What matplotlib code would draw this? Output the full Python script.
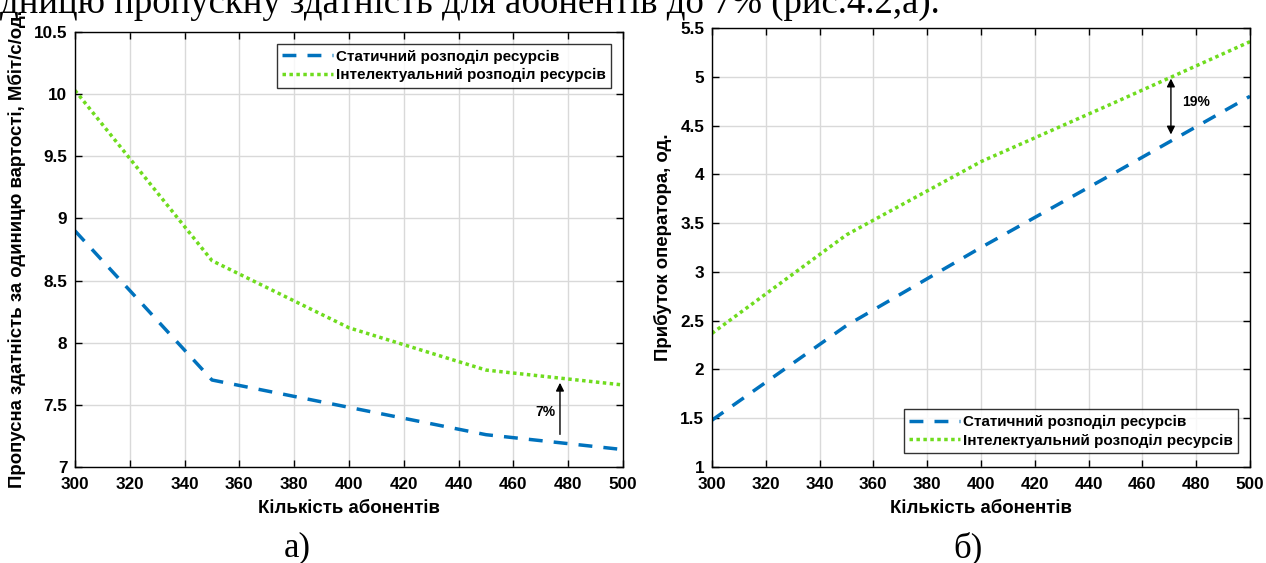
import matplotlib.pyplot as plt

# Дані
abonents = [300, 350, 400, 450, 500]
thr_static = [8.90, 7.70, 7.48, 7.26, 7.14]
thr_smart = [10.03, 8.66, 8.12, 7.78, 7.66]
profit_static = [1.48, 2.45, 3.25, 4.02, 4.80]
profit_smart = [2.37, 3.38, 4.13, 4.74, 5.36]

x_ticks = list(range(300, 501, 20))
y_ticks_a = [7, 7.5, 8, 8.5, 9, 9.5, 10, 10.5]
y_ticks_b = [1, 1.5, 2, 2.5, 3, 3.5, 4, 4.5, 5, 5.5]

lbl_static = "Статичний розподіл ресурсів"
lbl_smart = "Інтелектуальний розподіл ресурсів"

BLUE = "#0072BD"
GREEN = "#6FDC1E"
SANS = ["Liberation Sans", "DejaVu Sans"]
SERIF = ["Liberation Serif", "DejaVu Serif"]

plt.rcParams["font.family"] = SANS
plt.rcParams["font.weight"] = "bold"

fig = plt.figure(figsize=(12.66, 5.63), dpi=100)
W, H = 1266, 563


def make_axes(l, r, t, b):
    return fig.add_axes([l / W, 1 - b / H, (r - l) / W, (b - t) / H])


def style(ax, yticks):
    ax.set_xlim(300, 500)
    ax.set_xticks(x_ticks)
    ax.set_ylim(yticks[0], yticks[-1])
    ax.set_yticks(yticks)
    ax.set_yticklabels([f"{v:g}" for v in yticks])
    ax.grid(True, color="#d9d9d9", lw=1.0)
    ax.set_axisbelow(True)
    ax.tick_params(direction="in", top=True, right=True, length=5, width=1,
                   labelsize=12.3)
    ax.tick_params(axis="x", pad=7)
    ax.tick_params(axis="y", pad=5.5)
    for s in ax.spines.values():
        s.set_linewidth(1.0)
    ax.set_xlabel("Кількість абонентів", fontsize=13.4, fontweight="bold", labelpad=6)


def plot_pair(ax, y1, y2):
    ax.plot(abonents, y1, color=BLUE, lw=2.5, linestyle=(0, (4, 3.2)),
            dash_capstyle="butt", label=lbl_static)
    ax.plot(abonents, y2, color=GREEN, lw=2.5, linestyle=(0, (1, 1)),
            label=lbl_smart)


def add_legend(ax, loc, anchor):
    leg = ax.legend(loc=loc, bbox_to_anchor=anchor, fontsize=11,
                    frameon=True, fancybox=False, edgecolor="black",
                    handlelength=3.3, handletextpad=0.2, borderpad=0.35,
                    labelspacing=0.3, borderaxespad=0.0)
    leg.get_frame().set_linewidth(1.0)


# а)
ax1 = make_axes(75, 623, 32, 467)
plot_pair(ax1, thr_static, thr_smart)
style(ax1, y_ticks_a)
ax1.set_ylabel("Пропусна здатність за одиницю вартості, Мбіт/с/од.",
               fontsize=13.4, fontweight="bold", labelpad=6)
ax1.annotate("", xy=(477, 7.70), xytext=(477, 7.24),
             arrowprops=dict(arrowstyle="-|>", color="black", lw=1,
                             mutation_scale=12))
ax1.text(475.5, 7.44, "7%", ha="right", va="center", fontsize=10, fontweight="bold")
add_legend(ax1, "upper right", (0.978, 0.972))

# б)
ax2 = make_axes(712, 1250, 28, 467)
plot_pair(ax2, profit_static, profit_smart)
style(ax2, y_ticks_b)
ax2.set_ylabel("Прибуток оператора, од.", fontsize=13.4, fontweight="bold",
               labelpad=6)
ax2.annotate("", xy=(470.6, 5.01), xytext=(470.6, 4.38),
             arrowprops=dict(arrowstyle="<|-|>", color="black", lw=1,
                             mutation_scale=12))
ax2.text(474.7, 4.74, "19%", ha="left", va="center", fontsize=10, fontweight="bold")
add_legend(ax2, "lower right", (0.978, 0.032))

# текст документа (обрізаний зверху) та підписи
fig.text(0.0, 1 - 13 / H, "дницю пропускну здатність для абонентів до 7% (рис.4.2,а).",
         family=SERIF, fontweight="normal", fontsize=26.5, va="baseline", ha="left")
fig.text(297 / W, 1 - 548 / H, "а)", family=SERIF, fontweight="normal",
         fontsize=25, ha="center", va="center")
fig.text(968 / W, 1 - 548 / H, "б)", family=SERIF, fontweight="normal",
         fontsize=25, ha="center", va="center")

fig.savefig("out.png", dpi=100)
